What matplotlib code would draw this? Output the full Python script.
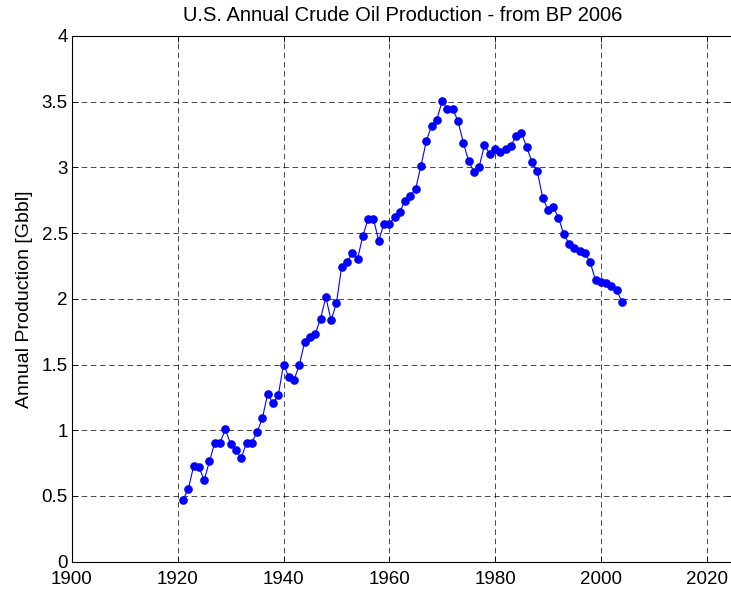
import matplotlib
matplotlib.use("Agg")
import matplotlib.pyplot as plt

# Annual U.S. crude oil production, Gbbl
years = list(range(1921, 2005))
production = [
    0.472, 0.553, 0.728, 0.718, 0.622, 0.764, 0.906, 0.906, 1.007, 0.893,  # 1921-1930
    0.848, 0.787, 0.906, 0.906, 0.987, 1.090, 1.278, 1.205, 1.265, 1.500,  # 1931-1940
    1.405, 1.383, 1.500, 1.672, 1.708, 1.733, 1.849, 2.012, 1.837, 1.966,  # 1941-1950
    2.245, 2.278, 2.347, 2.304, 2.479, 2.608, 2.608, 2.443, 2.572, 2.571,  # 1951-1960
    2.620, 2.664, 2.747, 2.785, 2.839, 3.014, 3.199, 3.318, 3.364, 3.506,  # 1961-1970
    3.445, 3.445, 3.352, 3.189, 3.049, 2.968, 3.006, 3.169, 3.105, 3.143,  # 1971-1980
    3.118, 3.138, 3.164, 3.237, 3.260, 3.154, 3.040, 2.970, 2.770, 2.679,  # 1981-1990
    2.697, 2.618, 2.492, 2.418, 2.385, 2.362, 2.349, 2.278, 2.141, 2.131,  # 1991-2000
    2.119, 2.098, 2.068, 1.976,                                            # 2001-2004
]

xticks = [1900, 1920, 1940, 1960, 1980, 2000, 2020]
yticks = [0, 0.5, 1, 1.5, 2, 2.5, 3, 3.5, 4]
ytick_labels = ["0", "0.5", "1", "1.5", "2", "2.5", "3", "3.5", "4"]

plt.rcParams["font.family"] = ["Liberation Sans", "DejaVu Sans"]
plt.rcParams["lines.scale_dashes"] = False

fig = plt.figure(figsize=(7.31, 5.94), dpi=100)
ax = fig.add_axes([72 / 731, 32.3 / 594, 661 / 731, 525.7 / 594])

ax.plot(years, production, color="#0000ff", linewidth=0.8,
        marker="o", markersize=5.2, markerfacecolor="#0000ff",
        markeredgecolor="#0000ff")

ax.set_xlim(1900, 2025)
ax.set_ylim(0, 4)
ax.set_xticks(xticks)
ax.set_yticks(yticks)
ax.set_yticklabels(ytick_labels)
ax.grid(True, color="black", linestyle=(0, (4.0, 2.6)), linewidth=0.5)
ax.tick_params(direction="in", top=True, right=True, length=4, width=0.6,
               colors="black", labelsize=13.5)
ax.tick_params(axis="x", pad=6.5)
ax.tick_params(axis="y", pad=3)
for s in ax.spines.values():
    s.set_linewidth(0.8)

ax.set_ylabel("Annual Production [Gbbl]", fontsize=14, labelpad=6)
ax.set_title("U.S. Annual Crude Oil Production - from BP 2006", fontsize=14.5, pad=11)

fig.savefig("out.png", dpi=100)
